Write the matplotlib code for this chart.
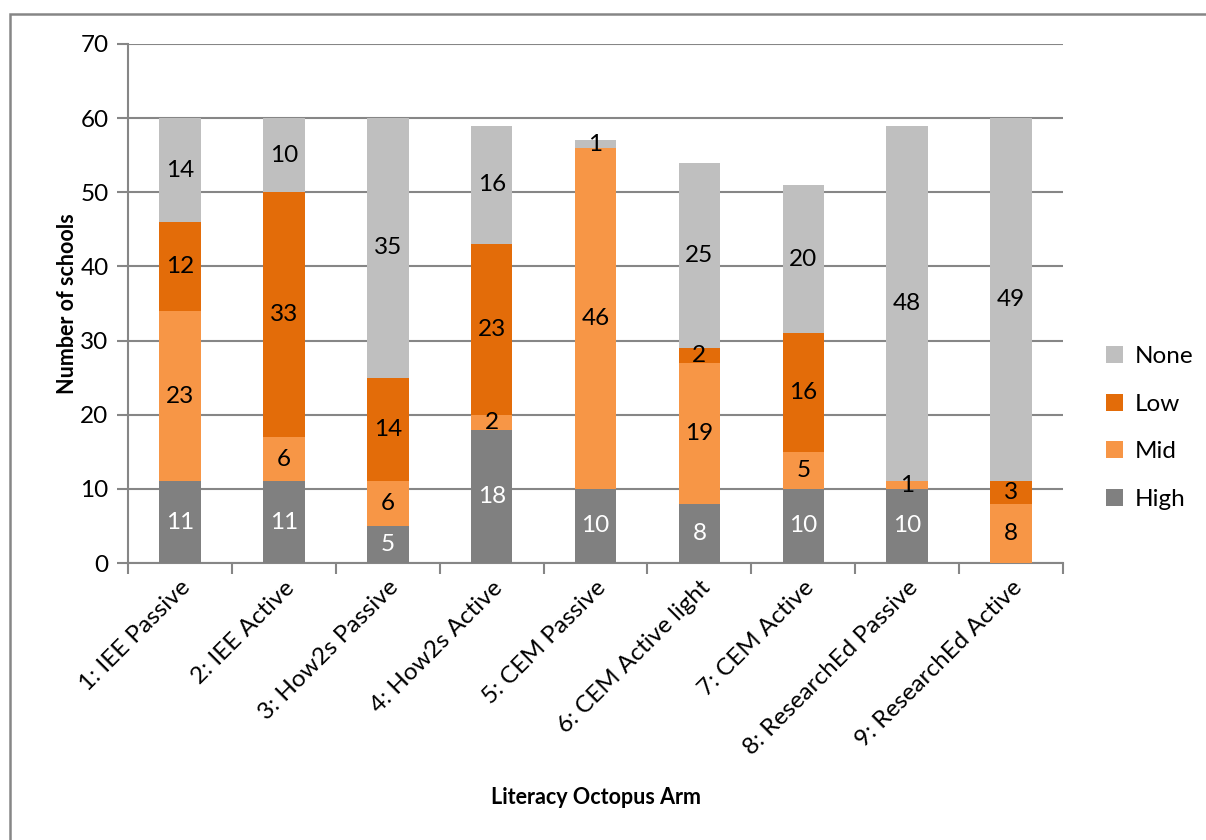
import matplotlib.pyplot as plt
import numpy as np
from matplotlib.patches import Rectangle

plt.rcParams['font.family'] = ['Lato', 'DejaVu Sans']

arms = ['1: IEE Passive', '2: IEE Active', '3: How2s Passive', '4: How2s Active',
        '5: CEM Passive', '6: CEM Active light', '7: CEM Active',
        '8: ResearchEd Passive', '9: ResearchEd Active']
high = [11, 11, 5, 18, 10, 8, 10, 10, 0]
mid = [23, 6, 6, 2, 46, 19, 5, 1, 8]
low = [12, 33, 14, 23, 0, 2, 16, 0, 3]
none = [14, 10, 35, 16, 1, 25, 20, 48, 49]

series = [('High', high, '#808080', 'white'),
          ('Mid', mid, '#f79646', 'black'),
          ('Low', low, '#e36c09', 'black'),
          ('None', none, '#bfbfbf', 'black')]

fig = plt.figure(figsize=(12.06, 8.4), dpi=100)
ax = fig.add_axes([128/1206, 1-563/840, (1063-128)/1206, (563-44)/840])

# frame around chart (clipped at right/bottom like the original)
fig.patches.append(Rectangle((10/1206, -0.1), 1.2, 1-14/840+0.1, transform=fig.transFigure,
                             fill=False, edgecolor='#868686', lw=1.8))

x = np.arange(len(arms))
bottom = np.zeros(len(arms))
handles = {}
for name, vals, col, tcol in series:
    vals = np.array(vals)
    b = ax.bar(x, vals, 0.4, bottom=bottom, color=col, zorder=3, label=name)
    handles[name] = b
    for xi, v, bt in zip(x, vals, bottom):
        if v > 0:
            ax.text(xi, bt + v/2, str(v), ha='center', va='center', color=tcol,
                    fontsize=17.5, zorder=4)
    bottom = bottom + vals

ax.set_xlim(-0.5, len(arms) - 0.5)
ax.set_ylim(0, 70)
ax.set_yticks(range(0, 71, 10))
ax.yaxis.grid(True, color='#868686', lw=1.5, zorder=0)
ax.set_xticks(np.arange(-0.5, len(arms), 1), minor=False)
ax.set_xticklabels([])
ax.set_xticks(x, minor=True)
ax.set_xticklabels(arms, minor=True, rotation=45, ha='right', rotation_mode='anchor', fontsize=17.5)
ax.tick_params(axis='x', which='minor', length=0, pad=10)
ax.tick_params(axis='x', which='major', length=8, width=1.5, color='#868686')
ax.tick_params(axis='y', length=8, width=1.5, color='#868686', labelsize=17.5, pad=6)

for s in ['top', 'right']:
    ax.spines[s].set_visible(False)
for s in ['left', 'bottom']:
    ax.spines[s].set_color('#868686')
    ax.spines[s].set_linewidth(1.5)

ax.set_ylabel('Number of schools', fontsize=15.5, fontweight='bold', labelpad=2)
fig.text(596/1206, 1-798/840, 'Literacy Octopus Arm', ha='center', va='center',
         fontsize=15.5, fontweight='bold')

order = ['None', 'Low', 'Mid', 'High']
fig.legend([handles[n] for n in order], order, loc='center left',
           bbox_to_anchor=(1084/1206, 1-428/840), frameon=False, fontsize=17.5,
           handlelength=0.7, handleheight=0.7, labelspacing=1.1, handletextpad=0.5)

fig.savefig('out.png', dpi=100)
